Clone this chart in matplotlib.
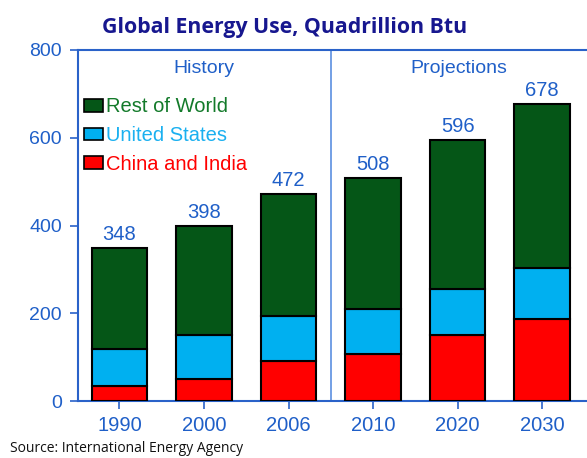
import matplotlib
matplotlib.use("Agg")
import matplotlib.pyplot as plt
import matplotlib.patches as mpatches
import numpy as np

years = ["1990", "2000", "2006", "2010", "2020", "2030"]
china_india = [34, 50, 91, 108, 151, 188]
united_states = [84, 101, 102, 102, 104, 116]
totals = [348, 398, 472, 508, 596, 678]
rest_of_world = [t - c - u for t, c, u in zip(totals, china_india, united_states)]

GREEN = "#055617"
BLUE = "#00b0f0"
RED = "#ff0000"
AXBLUE = "#2a62c9"
TXTBLUE = "#1f5fc8"

plt.rcParams["font.family"] = ["Liberation Sans", "DejaVu Sans"]

fig = plt.figure(figsize=(5.87, 4.58), dpi=100)
ax = fig.add_axes([78 / 587, 1 - 401 / 458, 1 - 78 / 587 + 0.01, (401 - 50) / 458])

x = np.arange(len(years))
w = 0.66
ax.bar(x, china_india, w, color=RED, edgecolor="black", linewidth=1.5, zorder=3)
ax.bar(x, united_states, w, bottom=china_india, color=BLUE,
       edgecolor="black", linewidth=1.5, zorder=3)
bottom2 = [c + u for c, u in zip(china_india, united_states)]
ax.bar(x, rest_of_world, w, bottom=bottom2, color=GREEN,
       edgecolor="black", linewidth=1.5, zorder=3)

# totals above the stacks
for xi, t in zip(x, totals):
    ax.text(xi, t + 18, str(t), ha="center", va="baseline",
            fontsize=14.5, color=TXTBLUE)

ax.set_xlim(-0.49, 5.6)
ax.set_ylim(0, 800)
ax.set_xticks(x)
ax.set_xticklabels(years)
ax.set_yticks([0, 200, 400, 600, 800])
ax.tick_params(axis="x", colors=AXBLUE, labelcolor=TXTBLUE, labelsize=14.5,
               length=6, width=1.2, pad=5)
ax.tick_params(axis="y", colors=AXBLUE, labelcolor=TXTBLUE, labelsize=14,
               length=6, width=1.2, pad=5.5)

for s in ["left", "top", "bottom"]:
    ax.spines[s].set_color(AXBLUE)
    ax.spines[s].set_linewidth(1.5)
ax.spines["right"].set_visible(False)

ax.axvline(2.5, color="#5b8fe0", linewidth=1.2, zorder=1)

ax.text(1, 758, "History", ha="center", va="center", fontsize=14, color=TXTBLUE)
ax.text(4.02, 758, "Projections", ha="center", va="center", fontsize=14, color=TXTBLUE)

handles = [
    mpatches.Patch(facecolor=GREEN, edgecolor="black", linewidth=1.2, label="Rest of World"),
    mpatches.Patch(facecolor=BLUE, edgecolor="black", linewidth=1.2, label="United States"),
    mpatches.Patch(facecolor=RED, edgecolor="black", linewidth=1.2, label="China and India"),
]
ax.legend(handles=handles, loc="upper left", bbox_to_anchor=(6 / 509, 0.865),
          frameon=False, fontsize=14.5, handlelength=0.95, handleheight=0.6,
          handletextpad=0.15, labelspacing=0.48, borderpad=0, borderaxespad=0,
          labelcolor=["#137a2a", "#1ab0f0", RED])

fig.text(285 / 587, 1 - 32.5 / 458, "Global Energy Use, Quadrillion Btu",
         ha="center", va="baseline", fontsize=15.3, fontweight="bold",
         color="#17178f", family=["Open Sans", "DejaVu Sans"])
fig.text(10 / 587, 1 - 449 / 458, "Source: International Energy Agency",
         ha="left", va="center", fontsize=10, color="#111111",
         family=["Open Sans", "DejaVu Sans"])

fig.savefig("out.png", dpi=100)
